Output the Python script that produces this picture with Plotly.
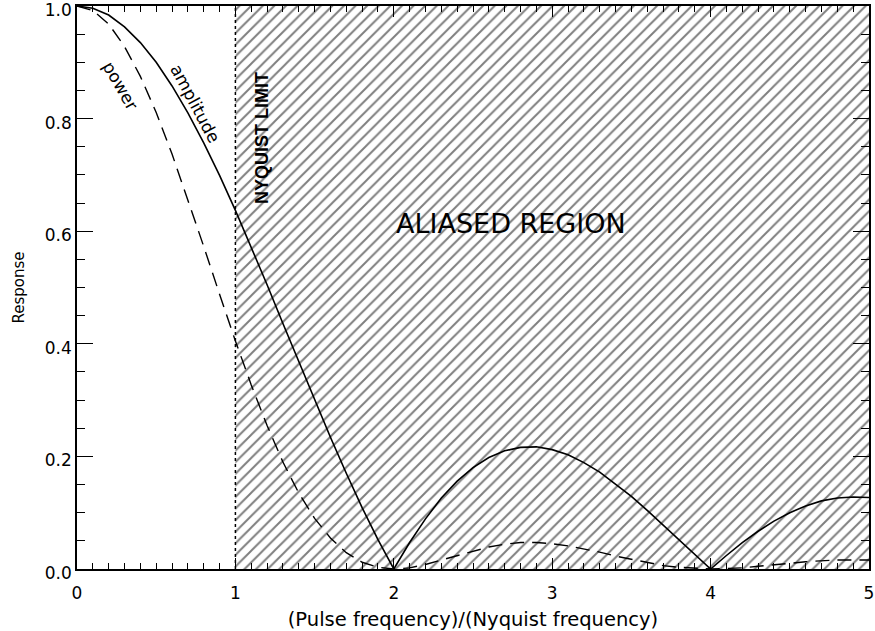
import plotly.graph_objects as go

# Frequency ratio (pulse / Nyquist) at which the response was sampled
freq_ratio = [0.0, 0.1, 0.2, 0.3, 0.4, 0.5, 0.6, 0.7, 0.8, 0.9,
              1.0, 1.1, 1.2, 1.3, 1.4, 1.5, 1.6, 1.7, 1.8, 1.9,
              2.0, 2.1, 2.2, 2.3, 2.4, 2.5, 2.6, 2.7, 2.8, 2.9,
              3.0, 3.1, 3.2, 3.3, 3.4, 3.5, 3.6, 3.7, 3.8, 3.9,
              4.0, 4.1, 4.2, 4.3, 4.4, 4.5, 4.6, 4.7, 4.8, 4.9, 5.0]

amplitude = [1.000, 0.996, 0.984, 0.963, 0.935, 0.900, 0.858, 0.810, 0.757, 0.699,
             0.637, 0.572, 0.505, 0.436, 0.368, 0.300, 0.234, 0.170, 0.109, 0.052,
             0.000, 0.047, 0.089, 0.126, 0.156, 0.180, 0.198, 0.210, 0.216, 0.217,
             0.212, 0.203, 0.189, 0.172, 0.151, 0.129, 0.104, 0.078, 0.052, 0.026,
             0.000, 0.024, 0.047, 0.067, 0.085, 0.100, 0.112, 0.121, 0.126, 0.128, 0.127]

power = [1.000, 0.992, 0.968, 0.928, 0.875, 0.811, 0.737, 0.657, 0.573, 0.488,
         0.405, 0.327, 0.255, 0.190, 0.135, 0.090, 0.055, 0.029, 0.012, 0.003,
         0.000, 0.002, 0.008, 0.016, 0.024, 0.032, 0.039, 0.044, 0.047, 0.047,
         0.045, 0.041, 0.036, 0.030, 0.023, 0.017, 0.011, 0.006, 0.003, 0.001,
         0.000, 0.001, 0.002, 0.005, 0.007, 0.010, 0.013, 0.015, 0.016, 0.016, 0.016]

nyquist_limit = 1.0
x_range = [0, 5]
y_range = [0, 1]
x_tick_step = 1
y_tick_step = 0.2

FONT = "DejaVu Sans"

fig = go.Figure()

# Hatched aliased region beyond the Nyquist limit
fig.add_trace(go.Scatter(
    x=[nyquist_limit, x_range[1], x_range[1], nyquist_limit, nyquist_limit],
    y=[y_range[0], y_range[0], y_range[1], y_range[1], y_range[0]],
    mode="none", fill="toself", fillcolor="rgba(0,0,0,0)",
    fillpattern=dict(shape="/", size=8.2, solidity=0.24,
                     fgcolor="black", bgcolor="white"),
    hoverinfo="skip", showlegend=False,
))

fig.add_trace(go.Scatter(
    x=freq_ratio, y=amplitude, mode="lines",
    line=dict(color="black", width=1.6),
    showlegend=False, name="amplitude",
))

fig.add_trace(go.Scatter(
    x=freq_ratio, y=power, mode="lines",
    line=dict(color="black", width=1.4, dash="14px,8px"),
    showlegend=False, name="power",
))

# Dotted Nyquist limit
fig.add_shape(type="line", xref="x", yref="y",
              x0=nyquist_limit, x1=nyquist_limit, y0=y_range[0], y1=y_range[1],
              line=dict(color="black", width=1.5, dash="dot"), layer="above")

annotations = [
    dict(x=2.742, y=0.613, text="ALIASED REGION", textangle=0,
         font=dict(family=FONT, size=27, color="black")),
    dict(x=1.164, y=0.766, text="<b>NYQUIST LIMIT</b>", textangle=-90,
         font=dict(family="Liberation Sans", size=18, color="black")),
    dict(x=0.748, y=0.826, text="amplitude", textangle=62,
         font=dict(family=FONT, size=17, color="black")),
    dict(x=0.275, y=0.858, text="power", textangle=60,
         font=dict(family=FONT, size=17, color="black")),
]
for a in annotations:
    fig.add_annotation(xref="x", yref="y", showarrow=False,
                       xanchor="center", yanchor="middle", **a)

fig.update_xaxes(
    range=x_range, tickmode="linear", tick0=0, dtick=x_tick_step, tickformat="d",
    showline=True, linecolor="black", linewidth=1.5, mirror="ticks",
    ticks="inside", ticklen=11, tickwidth=1.2, tickcolor="black",
    minor=dict(dtick=0.1, ticks="inside", ticklen=6, tickwidth=1.0, tickcolor="black"),
    showgrid=False, zeroline=False, ticklabeloverflow="allow", automargin=False,
    ticklabelstandoff=8,
    tickfont=dict(family=FONT, size=17, color="black"),
    title=dict(text="(Pulse frequency)/(Nyquist frequency)",
               font=dict(family=FONT, size=19.5, color="black"), standoff=12),
)
fig.update_yaxes(
    range=y_range, tickmode="linear", tick0=0, dtick=y_tick_step, tickformat=".1f",
    showline=True, linecolor="black", linewidth=1.5, mirror="ticks",
    ticks="inside", ticklen=16, tickwidth=1.2, tickcolor="black",
    minor=dict(dtick=0.05, ticks="inside", ticklen=8, tickwidth=1.0, tickcolor="black"),
    showgrid=False, zeroline=False, ticklabeloverflow="allow", automargin=False,
    ticklabelshift=4,
    tickfont=dict(family=FONT, size=17, color="black"),
    title=dict(text="Response", font=dict(family=FONT, size=15, color="black"),
               standoff=17),
)

fig.update_layout(
    width=875, height=631,
    margin=dict(l=77, r=6, t=6, b=62, autoexpand=False),
    paper_bgcolor="white", plot_bgcolor="white",
    showlegend=False,
)

fig.write_html("out.html")
